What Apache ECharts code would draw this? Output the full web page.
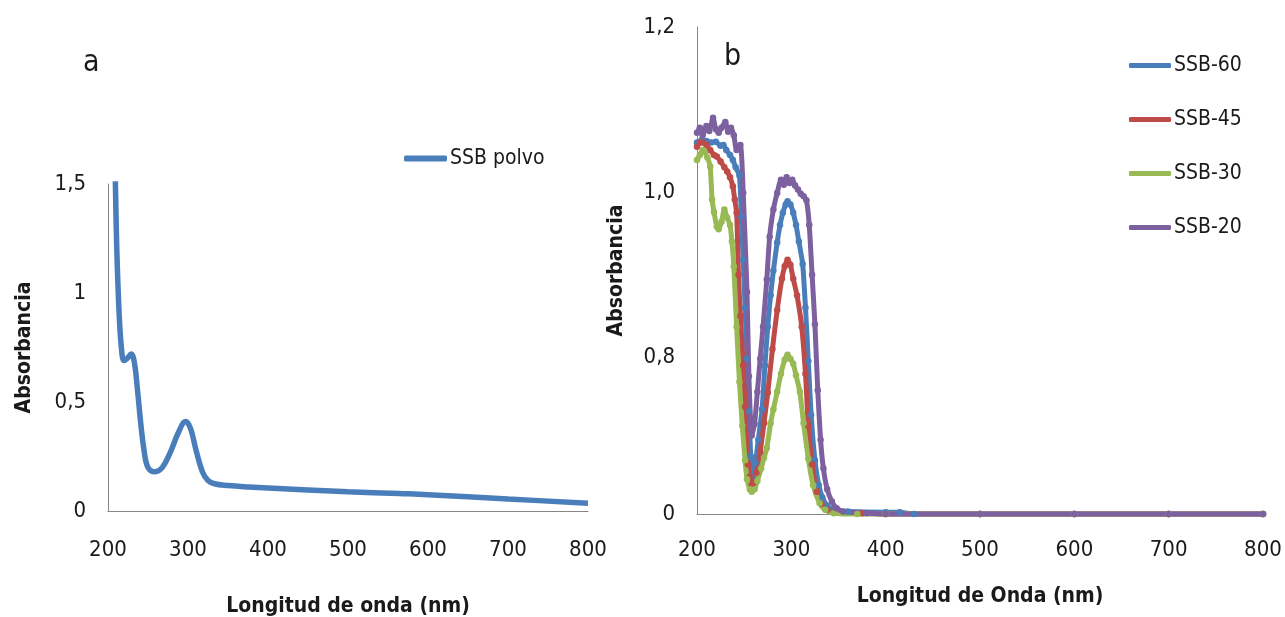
<!DOCTYPE html>
<html>
<head>
<meta charset="utf-8">
<script src="https://cdn.jsdelivr.net/npm/echarts@6/dist/echarts.min.js"></script>
<style>
  html, body { margin: 0; padding: 0; background: #ffffff; }
  #chart { width: 1285px; height: 617px; }
</style>
</head>
<body>
<div id="chart"></div>
<script>
// Panel a: SSB polvo — wavelength (nm) / absorbance pairs
const polvoWavelength = [209, 211, 214, 217, 220, 224, 229, 233, 237, 241, 245, 250, 259, 268, 278, 288, 297, 303, 310, 318, 325, 333, 350, 376, 400, 500, 564, 600, 700, 800];
const polvoAbs        = [1.55, 1.2, 0.9, 0.74, 0.69, 0.70, 0.72, 0.68, 0.55, 0.40, 0.28, 0.20, 0.18, 0.20, 0.27, 0.36, 0.41, 0.38, 0.28, 0.18, 0.14, 0.125, 0.117, 0.11, 0.105, 0.088, 0.08, 0.075, 0.055, 0.036];

// Panel b: SSB-60 / SSB-45 / SSB-30 / SSB-20 — wavelength (nm) / absorbance pairs
const ssb60Wavelength = [200, 205, 210, 215, 220, 225, 228, 231, 235, 238, 241, 245, 247, 249, 251, 253, 255, 257, 259, 262, 265, 269, 272, 275, 278, 281, 285, 288, 291, 294, 296, 299, 302, 305, 308, 312, 315, 318, 321, 325, 329, 333, 338, 345, 360, 400, 415, 430, 500, 600, 700, 800];
const ssb60Abs        = [1.060, 1.063, 1.062, 1.060, 1.061, 1.056, 1.057, 1.051, 1.045, 1.039, 1.030, 1.020, 0.970, 0.918, 0.860, 0.798, 0.735, 0.680, 0.656, 0.672, 0.700, 0.737, 0.790, 0.837, 0.875, 0.905, 0.939, 0.960, 0.975, 0.985, 0.989, 0.985, 0.975, 0.960, 0.940, 0.913, 0.860, 0.795, 0.730, 0.675, 0.645, 0.630, 0.620, 0.615, 0.613, 0.612, 0.612, 0.610, 0.610, 0.610, 0.610, 0.610];

const ssb45Wavelength = [200, 203, 206, 210, 214, 218, 221, 225, 229, 232, 235, 238, 240, 242, 244, 246, 249, 251, 254, 256, 258, 260, 263, 267, 271, 275, 280, 285, 290, 293, 296, 299, 302, 306, 311, 315, 318, 322, 327, 332, 338, 345, 375, 400, 500, 600, 700, 800];
const ssb45Abs        = [1.055, 1.060, 1.060, 1.057, 1.051, 1.045, 1.043, 1.037, 1.030, 1.025, 1.018, 1.007, 0.991, 0.975, 0.900, 0.850, 0.790, 0.740, 0.670, 0.655, 0.645, 0.648, 0.660, 0.685, 0.720, 0.757, 0.810, 0.857, 0.895, 0.910, 0.918, 0.912, 0.895, 0.875, 0.837, 0.780, 0.717, 0.670, 0.637, 0.622, 0.615, 0.612, 0.611, 0.610, 0.610, 0.610, 0.610, 0.610];

const ssb30Wavelength = [200, 203, 206, 208, 211, 214, 216, 218, 221, 223, 226, 229, 232, 235, 237, 239, 242, 245, 248, 251, 253, 256, 258, 261, 264, 268, 271, 274, 278, 281, 285, 289, 293, 296, 299, 302, 305, 309, 313, 318, 323, 330, 336, 345, 370, 400, 500, 600, 700, 800];
const ssb30Abs        = [1.039, 1.045, 1.051, 1.049, 1.042, 1.031, 0.991, 0.976, 0.958, 0.955, 0.964, 0.979, 0.969, 0.960, 0.940, 0.910, 0.837, 0.770, 0.717, 0.675, 0.652, 0.640, 0.637, 0.640, 0.650, 0.665, 0.678, 0.690, 0.720, 0.737, 0.758, 0.780, 0.797, 0.803, 0.798, 0.792, 0.778, 0.758, 0.720, 0.677, 0.645, 0.623, 0.615, 0.611, 0.610, 0.610, 0.610, 0.610, 0.610, 0.610];

const ssb20Wavelength = [200, 203, 206, 210, 213, 217, 220, 223, 226, 230, 233, 236, 239, 242, 246, 249, 253, 255, 258, 261, 264, 267, 270, 274, 277, 281, 285, 289, 292, 295, 298, 301, 304, 307, 310, 313, 316, 319, 322, 325, 328, 331, 334, 338, 343, 348, 355, 380, 400, 500, 600, 700, 800];
const ssb20Abs        = [1.072, 1.078, 1.069, 1.080, 1.074, 1.090, 1.076, 1.072, 1.078, 1.085, 1.073, 1.078, 1.069, 1.051, 1.057, 0.999, 0.879, 0.777, 0.705, 0.719, 0.758, 0.798, 0.837, 0.894, 0.946, 0.979, 0.999, 1.015, 1.009, 1.018, 1.011, 1.015, 1.008, 1.003, 0.998, 0.995, 0.990, 0.960, 0.900, 0.840, 0.760, 0.700, 0.665, 0.640, 0.625, 0.617, 0.613, 0.611, 0.610, 0.610, 0.610, 0.610, 0.610];

// Axis tick labels
const xTicks = [200, 300, 400, 500, 600, 700, 800];
const yTicksA = [0, 0.5, 1, 1.5];
const yTicksB = [0.61, 0.8, 1.0, 1.2];
const yLabelsB = ['0', '0,8', '1,0', '1,2'];

const pairs = (xs, ys) => xs.map((x, i) => [x, ys[i]]);

const FONT = "'Liberation Sans Narrow', 'DejaVu Sans Condensed', 'Liberation Sans', sans-serif";
const AXIS_GRAY = '#868686';
const TEXT = '#1a1a1a';

const chart = echarts.init(document.getElementById('chart'), null, { renderer: 'canvas' });

const commonX = {
  type: 'value', min: 200, max: 800, interval: 100,
  axisLine: { show: true, lineStyle: { color: AXIS_GRAY, width: 1 } },
  axisTick: { show: false },
  splitLine: { show: false },
  axisLabel: { color: TEXT, fontFamily: FONT, fontSize: 22, customValues: xTicks },
  nameLocation: 'middle',
  nameTextStyle: { color: TEXT, fontFamily: FONT, fontSize: 21, fontWeight: 'bold' }
};

const option = {
  backgroundColor: '#ffffff',
  animation: false,
  grid: [
    { left: 108, top: 184, width: 480, height: 327, containLabel: false, outerBoundsMode: 'none' },
    { left: 697, top: 27, width: 566, height: 487, containLabel: false, outerBoundsMode: 'none' }
  ],
  xAxis: [
    Object.assign({}, commonX, {
      gridIndex: 0, name: 'Longitud de onda (nm)', nameGap: 85,
      axisLabel: Object.assign({}, commonX.axisLabel, { margin: 28 })
    }),
    Object.assign({}, commonX, {
      gridIndex: 1, name: 'Longitud de Onda (nm)', nameGap: 72,
      axisLabel: Object.assign({}, commonX.axisLabel, { margin: 25 })
    })
  ],
  yAxis: [
    {
      gridIndex: 0, type: 'value', min: 0, max: 1.5, interval: 0.5,
      axisLine: { show: true, lineStyle: { color: AXIS_GRAY, width: 1 } },
      axisTick: { show: false },
      splitLine: { show: false },
      axisLabel: {
        color: TEXT, fontFamily: FONT, fontSize: 22, margin: 22,
        customValues: yTicksA,
        formatter: v => String(v).replace('.', ',')
      },
      name: 'Absorbancia', nameLocation: 'middle', nameGap: 73,
      nameTextStyle: { color: TEXT, fontFamily: FONT, fontSize: 21, fontWeight: 'bold' }
    },
    {
      gridIndex: 1, type: 'value', min: 0.61, max: 1.2,
      axisLine: { show: true, lineStyle: { color: AXIS_GRAY, width: 1 } },
      axisTick: { show: false },
      splitLine: { show: false },
      axisLabel: {
        color: TEXT, fontFamily: FONT, fontSize: 22, margin: 22,
        customValues: yTicksB,
        formatter: v => {
          const i = yTicksB.findIndex(t => Math.abs(t - v) < 1e-6);
          return i >= 0 ? yLabelsB[i] : '';
        }
      },
      name: 'Absorbancia', nameLocation: 'middle', nameGap: 70,
      nameTextStyle: { color: TEXT, fontFamily: FONT, fontSize: 21, fontWeight: 'bold' }
    }
  ],
  legend: [
    {
      data: ['SSB polvo'], left: 399, top: 143, orient: 'vertical',
      itemWidth: 43, itemHeight: 6, itemGap: 10,
      icon: 'roundRect',
      textStyle: { color: TEXT, fontFamily: FONT, fontSize: 21, padding: [0, 0, 0, -2] }
    },
    {
      data: ['SSB-60', 'SSB-45', 'SSB-30', 'SSB-20'], left: 1124, top: 50, orient: 'vertical',
      itemWidth: 42, itemHeight: 5, itemGap: 33,
      icon: 'roundRect',
      textStyle: { color: TEXT, fontFamily: FONT, fontSize: 21, padding: [0, 0, 0, -2] }
    }
  ],
  graphic: [
    { type: 'text', left: 83, top: 48, style: { text: 'a', font: '30px ' + FONT, fill: TEXT } },
    { type: 'text', left: 724, top: 42, style: { text: 'b', font: '30px ' + FONT, fill: TEXT } }
  ],
  series: [
    {
      name: 'SSB polvo', type: 'line', xAxisIndex: 0, yAxisIndex: 0,
      data: pairs(polvoWavelength, polvoAbs),
      smooth: 0.4, showSymbol: false, symbol: 'none',
      lineStyle: { color: '#4A7EBB', width: 5.5 },
      itemStyle: { color: '#4A7EBB' }
    },
    ...[
      ['SSB-60', ssb60Wavelength, ssb60Abs, '#4A7EBB'],
      ['SSB-45', ssb45Wavelength, ssb45Abs, '#BE4B48'],
      ['SSB-30', ssb30Wavelength, ssb30Abs, '#98B954'],
      ['SSB-20', ssb20Wavelength, ssb20Abs, '#7D60A0']
    ].map(([name, xs, ys, color]) => ({
      name, type: 'line', xAxisIndex: 1, yAxisIndex: 1,
      data: pairs(xs, ys),
      smooth: 0.2, clip: false,
      symbol: 'circle', symbolSize: 6.5, showSymbol: true,
      lineStyle: { color, width: 5 },
      itemStyle: { color, borderWidth: 0 }
    }))
  ]
};

chart.setOption(option);
</script>
</body>
</html>
